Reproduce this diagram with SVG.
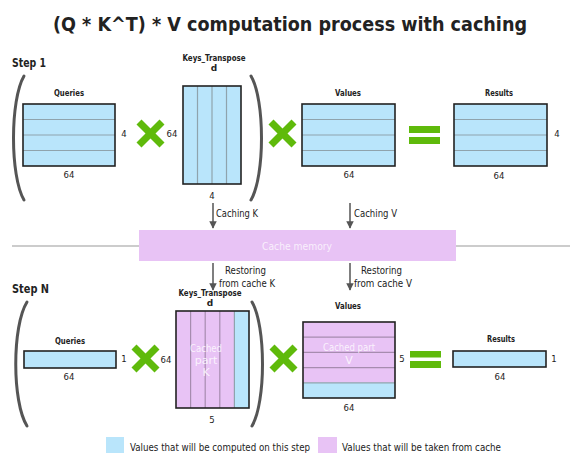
<svg xmlns="http://www.w3.org/2000/svg" width="571" height="453" viewBox="0 0 571 453">
<defs>
<marker id="ah" viewBox="0 0 10 10" refX="9" refY="5" markerWidth="5" markerHeight="5" orient="auto" markerUnits="strokeWidth">
<path d="M0,0 L10,5 L0,10 z" fill="#555"/>
</marker>
<style>
text{font-family:"DejaVu Sans",Verdana,sans-serif;fill:#222}
.t{font-size:19px;font-weight:bold}
.step{font-size:13px;font-weight:bold}
.lbl{font-size:9px;font-weight:bold}
.n{font-size:8.5px}
.c{font-size:10px}
.w{fill:#fff;fill-opacity:0.8;font-size:11px}
.blue{fill:#B9E5FB}
.pink{fill:#E8C3F5}
.box{fill:none;stroke:#222;stroke-width:1.6}
.row{stroke:#8FA3AD;stroke-width:1.2}
.prow{stroke:#A68CAF;stroke-width:1.2}
.x{stroke:#5FBA0B;stroke-width:7}
.eq{fill:#5FBA0B}
.br{fill:none;stroke:#555;stroke-width:3;stroke-linecap:round}
.ar{stroke:#555;stroke-width:1.5;marker-end:url(#ah)}
</style>
</defs>
<rect width="571" height="453" fill="#fff"/>
<text class="t" x="290" y="31" text-anchor="middle" textLength="474" lengthAdjust="spacingAndGlyphs">(Q * K^T) * V computation process with caching</text>

<line x1="12" y1="246" x2="570" y2="246" stroke="#CCCCCC" stroke-width="2"/>

<g id="step1">
<text class="step" x="12" y="67" textLength="34" lengthAdjust="spacingAndGlyphs">Step 1</text>
<path class="br" d="M24 76 C10 100 10 176 24 200"/>
<path class="br" d="M251 76 C265 100 265 176 251 200"/>
</g>

<g id="queries1">
<text class="lbl" x="69" y="96" text-anchor="middle" textLength="30" lengthAdjust="spacingAndGlyphs">Queries</text>
<rect class="blue" x="23" y="104" width="92" height="62"/>
<line class="row" x1="23" y1="119.5" x2="115" y2="119.5"/>
<line class="row" x1="23" y1="135" x2="115" y2="135"/>
<line class="row" x1="23" y1="150.5" x2="115" y2="150.5"/>
<rect class="box" x="23" y="104" width="92" height="62"/>
<text class="n" x="69" y="178" text-anchor="middle">64</text>
<text class="n" x="124" y="137" text-anchor="middle">4</text>
</g>

<g id="times1a"><line class="x" x1="139" y1="122" x2="162" y2="145"/><line class="x" x1="162" y1="122" x2="139" y2="145"/></g>

<g id="keys1">
<text class="lbl" x="214" y="61" text-anchor="middle" textLength="63" lengthAdjust="spacingAndGlyphs">Keys_Transpose</text>
<text class="lbl" x="214" y="71" text-anchor="middle">d</text>
<text class="n" x="172" y="137" text-anchor="middle">64</text>
<rect class="blue" x="183" y="86" width="58" height="98"/>
<line class="row" x1="197.5" y1="86" x2="197.5" y2="184"/>
<line class="row" x1="212" y1="86" x2="212" y2="184"/>
<line class="row" x1="226.5" y1="86" x2="226.5" y2="184"/>
<rect class="box" x="183" y="86" width="58" height="98"/>
<text class="n" x="212" y="199" text-anchor="middle">4</text>
</g>

<g id="times1b"><line class="x" x1="271" y1="122" x2="294" y2="145"/><line class="x" x1="294" y1="122" x2="271" y2="145"/></g>

<g id="values1">
<text class="lbl" x="348" y="96" text-anchor="middle" textLength="26" lengthAdjust="spacingAndGlyphs">Values</text>
<rect class="blue" x="302" y="104" width="93" height="62"/>
<line class="row" x1="302" y1="119.5" x2="395" y2="119.5"/>
<line class="row" x1="302" y1="135" x2="395" y2="135"/>
<line class="row" x1="302" y1="150.5" x2="395" y2="150.5"/>
<rect class="box" x="302" y="104" width="93" height="62"/>
<text class="n" x="349" y="178" text-anchor="middle">64</text>
</g>

<g id="equals1"><rect class="eq" x="409" y="126" width="31" height="7"/><rect class="eq" x="409" y="137" width="31" height="7"/></g>

<g id="results1">
<text class="lbl" x="499" y="96" text-anchor="middle" textLength="28" lengthAdjust="spacingAndGlyphs">Results</text>
<rect class="blue" x="454" y="104" width="93" height="62"/>
<line class="row" x1="454" y1="119.5" x2="547" y2="119.5"/>
<line class="row" x1="454" y1="135" x2="547" y2="135"/>
<line class="row" x1="454" y1="150.5" x2="547" y2="150.5"/>
<rect class="box" x="454" y="104" width="93" height="62"/>
<text class="n" x="557" y="137" text-anchor="middle">4</text>
<text class="n" x="499" y="179" text-anchor="middle">64</text>
</g>

<g id="cache">
<rect class="pink" x="139" y="230" width="317" height="31"/>
<text class="c" x="297" y="250" text-anchor="middle" style="fill:#fff;fill-opacity:0.75" textLength="70" lengthAdjust="spacingAndGlyphs">Cache memory</text>
</g>

<g id="connectors">
<line class="ar" x1="213" y1="203" x2="213" y2="228"/>
<line class="ar" x1="350" y1="203" x2="350" y2="228"/>
<line class="ar" x1="213" y1="263" x2="213" y2="290"/>
<line class="ar" x1="350" y1="263" x2="350" y2="290"/>
<text class="c" x="216" y="217" textLength="42" lengthAdjust="spacingAndGlyphs">Caching K</text>
<text class="c" x="354" y="217" textLength="43" lengthAdjust="spacingAndGlyphs">Caching V</text>
<text class="c" x="225" y="274" textLength="41" lengthAdjust="spacingAndGlyphs">Restoring</text>
<text class="c" x="219" y="287" textLength="56" lengthAdjust="spacingAndGlyphs">from cache K</text>
<text class="c" x="361" y="274" textLength="41" lengthAdjust="spacingAndGlyphs">Restoring</text>
<text class="c" x="354" y="287" textLength="58" lengthAdjust="spacingAndGlyphs">from cache V</text>
</g>

<g id="stepN">
<text class="step" x="12" y="293" textLength="37" lengthAdjust="spacingAndGlyphs">Step N</text>
<path class="br" d="M27 302 C12 326 12 402 27 426"/>
<path class="br" d="M252 302 C266 326 266 402 252 426"/>
</g>

<g id="queriesN">
<text class="lbl" x="70" y="344" text-anchor="middle" textLength="30" lengthAdjust="spacingAndGlyphs">Queries</text>
<rect class="blue" x="24" y="351" width="92" height="17"/>
<rect class="box" x="24" y="351" width="92" height="17"/>
<text class="n" x="69" y="380" text-anchor="middle">64</text>
<text class="n" x="124" y="362" text-anchor="middle">1</text>
</g>

<g id="timesNa"><line class="x" x1="134" y1="347" x2="157" y2="370"/><line class="x" x1="157" y1="347" x2="134" y2="370"/></g>

<g id="keysN">
<text class="lbl" x="210" y="296" text-anchor="middle" textLength="63" lengthAdjust="spacingAndGlyphs">Keys_Transpose</text>
<text class="lbl" x="210" y="306" text-anchor="middle">d</text>
<text class="n" x="166" y="363" text-anchor="middle">64</text>
<rect class="pink" x="176" y="311" width="58.4" height="97"/>
<rect class="blue" x="234.4" y="311" width="14.6" height="97"/>
<line class="prow" x1="190.6" y1="311" x2="190.6" y2="408"/>
<line class="prow" x1="205.2" y1="311" x2="205.2" y2="408"/>
<line class="prow" x1="219.8" y1="311" x2="219.8" y2="408"/>
<line class="row" x1="234.4" y1="311" x2="234.4" y2="408"/>
<rect class="box" x="176" y="311" width="73" height="97"/>
<text class="w" x="206" y="352" text-anchor="middle" textLength="32" lengthAdjust="spacingAndGlyphs">Cached</text>
<text class="w" x="206" y="364" text-anchor="middle">part</text>
<text class="w" x="206" y="376" text-anchor="middle">K</text>
<text class="n" x="212" y="423" text-anchor="middle">5</text>
</g>

<g id="timesNb"><line class="x" x1="272" y1="347" x2="295" y2="370"/><line class="x" x1="295" y1="347" x2="272" y2="370"/></g>

<g id="valuesN">
<text class="lbl" x="348" y="309" text-anchor="middle" textLength="26" lengthAdjust="spacingAndGlyphs">Values</text>
<rect class="pink" x="303" y="322" width="92" height="60.8"/>
<rect class="blue" x="303" y="382.8" width="92" height="15.2"/>
<line class="prow" x1="303" y1="337.2" x2="395" y2="337.2"/>
<line class="prow" x1="303" y1="352.4" x2="395" y2="352.4"/>
<line class="prow" x1="303" y1="367.6" x2="395" y2="367.6"/>
<line class="row" x1="303" y1="382.8" x2="395" y2="382.8"/>
<rect class="box" x="303" y="322" width="92" height="76"/>
<text class="w" x="349" y="351" text-anchor="middle" textLength="52" lengthAdjust="spacingAndGlyphs">Cached part</text>
<text class="w" x="349" y="364" text-anchor="middle">V</text>
<text class="n" x="402" y="362" text-anchor="middle">5</text>
<text class="n" x="349" y="411" text-anchor="middle">64</text>
</g>

<g id="equalsN"><rect class="eq" x="410" y="351" width="31" height="6.5"/><rect class="eq" x="410" y="361" width="31" height="7"/></g>

<g id="resultsN">
<text class="lbl" x="501" y="342" text-anchor="middle" textLength="28" lengthAdjust="spacingAndGlyphs">Results</text>
<rect class="blue" x="453" y="351" width="93" height="16"/>
<rect class="box" x="453" y="351" width="93" height="16"/>
<text class="n" x="554" y="362" text-anchor="middle">1</text>
<text class="n" x="500" y="380" text-anchor="middle">64</text>
</g>

<g id="legend">
<rect class="blue" x="106" y="437" width="18" height="17"/>
<text class="c" x="130" y="451" textLength="180" lengthAdjust="spacingAndGlyphs">Values that will be computed on this step</text>
<rect class="pink" x="318" y="437" width="19" height="17"/>
<text class="c" x="342" y="451" textLength="159" lengthAdjust="spacingAndGlyphs">Values that will be taken from cache</text>
</g>
</svg>
